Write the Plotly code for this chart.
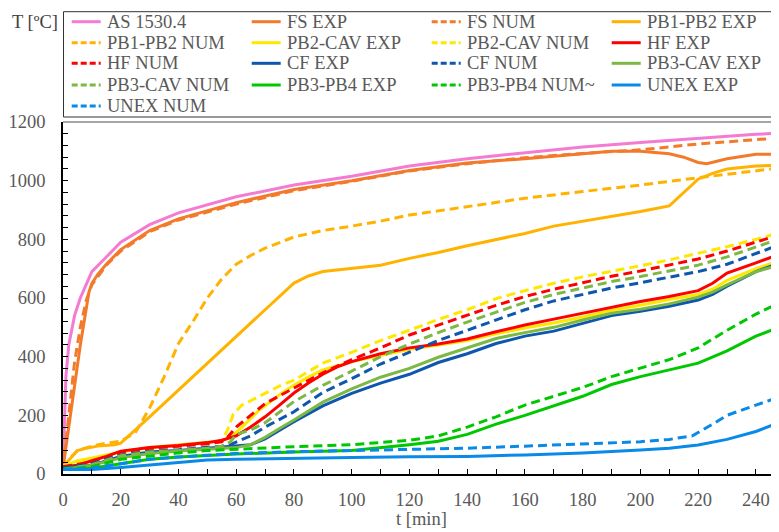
import plotly.graph_objects as go

# ---------------- data ----------------
AS_T = [0, 1, 2, 4, 6, 10, 15, 20, 30, 40, 60, 80, 100, 120, 140, 160, 180, 200, 220, 240, 248]
AS_Y = [20, 330, 440, 540, 600, 690, 740, 790, 850, 890, 945, 985, 1015, 1050, 1075, 1095, 1115, 1130, 1145, 1158, 1162]

FS_EXP_T = [0, 3, 6, 9, 10, 12, 15, 20, 30, 40, 60, 80, 100, 120, 140, 160, 180, 190, 200, 210, 215, 220, 223, 230, 240, 248]
FS_EXP_Y = [20, 230, 440, 620, 650, 680, 715, 765, 830, 870, 925, 970, 1000, 1035, 1060, 1075, 1090, 1100, 1100, 1092, 1080, 1062, 1058, 1075, 1090, 1090]

FS_NUM_T = [0, 2, 4, 6, 8, 10, 15, 20, 30, 40, 60, 80, 100, 120, 140, 160, 180, 200, 220, 240, 248]
FS_NUM_Y = [20, 200, 380, 500, 590, 645, 712, 760, 826, 866, 920, 966, 998, 1033, 1058, 1078, 1093, 1105, 1125, 1140, 1145]

PB12_EXP_T = [0, 3, 5, 8, 12, 18, 20, 30, 40, 50, 60, 70, 80, 85, 90, 100, 110, 120, 130, 140, 150, 160, 170, 180, 190, 200, 210, 215, 220, 225, 230, 240, 248]
PB12_EXP_Y = [25, 60, 80, 88, 95, 100, 105, 195, 287, 378, 470, 560, 651, 675, 690, 700, 712, 735, 755, 778, 800, 820, 845, 862, 877, 895, 914, 960, 1005, 1025, 1040, 1050, 1053]

PB12_NUM_T = [0, 3, 5, 10, 15, 20, 25, 30, 35, 40, 45, 50, 55, 60, 65, 70, 80, 90, 100, 110, 120, 140, 160, 180, 200, 220, 240, 248]
PB12_NUM_Y = [20, 60, 80, 95, 105, 112, 140, 225, 330, 445, 520, 600, 665, 715, 745, 770, 808, 830, 845, 862, 883, 912, 940, 963, 985, 1010, 1033, 1043]

PB2CAV_EXP_T = [0, 5, 10, 20, 30, 40, 50, 55, 58, 62, 68, 75, 80, 85, 90, 100, 110, 120, 130, 140, 150, 160, 170, 180, 190, 200, 210, 220, 225, 230, 240, 248]
PB2CAV_EXP_Y = [25, 45, 55, 75, 90, 100, 108, 112, 125, 160, 218, 270, 303, 330, 355, 383, 405, 425, 440, 455, 478, 498, 515, 535, 558, 575, 595, 612, 630, 660, 700, 726]

PB2CAV_NUM_T = [0, 5, 10, 20, 30, 40, 50, 55, 57, 59, 62, 68, 75, 80, 90, 100, 110, 120, 130, 140, 150, 160, 170, 180, 190, 200, 210, 220, 230, 240, 248]
PB2CAV_NUM_Y = [25, 40, 50, 70, 85, 97, 105, 112, 150, 205, 235, 264, 300, 320, 378, 415, 455, 490, 527, 560, 598, 625, 650, 672, 690, 710, 730, 752, 775, 800, 822]

HF_EXP_T = [0, 5, 10, 15, 20, 25, 30, 40, 50, 55, 60, 65, 70, 75, 80, 85, 90, 95, 100, 110, 120, 130, 140, 150, 160, 170, 180, 190, 200, 210, 220, 225, 230, 240, 248]
HF_EXP_Y = [25, 30, 45, 60, 78, 85, 90, 97, 107, 115, 130, 160, 195, 235, 276, 310, 340, 365, 383, 410, 430, 443, 460, 485, 508, 528, 548, 570, 588, 605, 625, 650, 685, 720, 748]

HF_NUM_T = [0, 10, 20, 30, 40, 50, 55, 57, 60, 65, 70, 80, 90, 100, 110, 120, 130, 140, 150, 160, 170, 180, 190, 200, 210, 220, 230, 240, 248]
HF_NUM_Y = [25, 40, 75, 88, 95, 103, 110, 125, 160, 200, 240, 293, 345, 390, 430, 474, 508, 540, 575, 605, 630, 652, 674, 692, 712, 733, 760, 792, 815]

CF_EXP_T = [0, 10, 20, 30, 40, 50, 55, 60, 65, 70, 75, 80, 90, 100, 110, 120, 130, 140, 150, 160, 170, 180, 190, 200, 210, 220, 225, 230, 240, 248]
CF_EXP_Y = [20, 30, 60, 75, 80, 88, 92, 95, 100, 120, 150, 178, 232, 275, 310, 340, 380, 410, 445, 470, 487, 513, 540, 555, 572, 593, 612, 640, 690, 719]

CF_NUM_T = [0, 10, 20, 30, 40, 50, 55, 58, 60, 65, 70, 80, 90, 100, 110, 120, 130, 140, 150, 160, 170, 180, 190, 200, 210, 220, 230, 240, 248]
CF_NUM_Y = [20, 35, 65, 78, 83, 90, 95, 100, 108, 130, 160, 212, 278, 325, 375, 415, 455, 490, 525, 560, 590, 612, 634, 652, 670, 690, 715, 752, 781]

PB3CAV_EXP_T = [0, 10, 20, 30, 40, 50, 55, 60, 65, 70, 75, 80, 90, 100, 110, 120, 130, 140, 150, 160, 170, 180, 190, 200, 210, 220, 225, 230, 240, 248]
PB3CAV_EXP_Y = [15, 30, 55, 70, 78, 83, 88, 90, 100, 125, 155, 184, 245, 290, 330, 360, 398, 430, 462, 482, 500, 525, 548, 562, 580, 603, 620, 645, 690, 712]

PB3CAV_NUM_T = [0, 10, 20, 30, 40, 50, 55, 58, 60, 65, 70, 80, 90, 100, 110, 120, 130, 140, 150, 160, 170, 180, 190, 200, 210, 220, 230, 240, 248]
PB3CAV_NUM_Y = [15, 32, 62, 75, 80, 88, 95, 110, 135, 150, 175, 247, 302, 352, 400, 443, 482, 518, 552, 585, 612, 635, 656, 673, 692, 712, 740, 775, 801]

PB34_EXP_T = [0, 10, 20, 30, 40, 50, 60, 80, 100, 120, 130, 140, 150, 160, 170, 180, 190, 200, 210, 220, 230, 240, 248]
PB34_EXP_Y = [15, 20, 35, 50, 58, 63, 68, 75, 80, 100, 112, 135, 170, 200, 232, 265, 305, 332, 355, 378, 420, 470, 500]

PB34_NUM_T = [0, 10, 20, 30, 40, 50, 60, 80, 100, 120, 130, 140, 150, 160, 170, 180, 190, 200, 210, 220, 230, 240, 248]
PB34_NUM_Y = [15, 25, 50, 62, 72, 80, 85, 93, 100, 115, 130, 160, 195, 235, 265, 295, 332, 360, 390, 430, 490, 545, 583]

UNEX_EXP_T = [0, 10, 20, 30, 40, 50, 60, 80, 100, 120, 140, 160, 180, 200, 210, 220, 230, 240, 248]
UNEX_EXP_Y = [15, 15, 22, 30, 40, 48, 50, 54, 56, 59, 60, 65, 72, 82, 88, 99, 118, 145, 175]

UNEX_NUM_T = [0, 10, 20, 30, 40, 50, 60, 80, 100, 120, 140, 160, 180, 200, 210, 218, 225, 230, 240, 248]
UNEX_NUM_Y = [15, 20, 35, 50, 58, 65, 70, 76, 80, 84, 88, 95, 102, 110, 118, 130, 170, 200, 235, 262]

SERIES = [
    ("AS 1530.4", AS_T, AS_Y, "#F47BD2", "solid"),
    ("FS EXP", FS_EXP_T, FS_EXP_Y, "#F37A2A", "solid"),
    ("FS NUM", FS_NUM_T, FS_NUM_Y, "#F37A2A", "dash"),
    ("PB1-PB2 EXP", PB12_EXP_T, PB12_EXP_Y, "#FFB300", "solid"),
    ("PB1-PB2 NUM", PB12_NUM_T, PB12_NUM_Y, "#FFB300", "dash"),
    ("PB2-CAV EXP", PB2CAV_EXP_T, PB2CAV_EXP_Y, "#FFE800", "solid"),
    ("PB2-CAV NUM", PB2CAV_NUM_T, PB2CAV_NUM_Y, "#FFE800", "dash"),
    ("HF EXP", HF_EXP_T, HF_EXP_Y, "#FF0000", "solid"),
    ("HF NUM", HF_NUM_T, HF_NUM_Y, "#FF0000", "dash"),
    ("CF EXP", CF_EXP_T, CF_EXP_Y, "#0E56AE", "solid"),
    ("CF NUM", CF_NUM_T, CF_NUM_Y, "#0E56AE", "dash"),
    ("PB3-CAV EXP", PB3CAV_EXP_T, PB3CAV_EXP_Y, "#7CB844", "solid"),
    ("PB3-CAV NUM", PB3CAV_NUM_T, PB3CAV_NUM_Y, "#7CB844", "dash"),
    ("PB3-PB4 EXP", PB34_EXP_T, PB34_EXP_Y, "#00C800", "solid"),
    ("PB3-PB4 NUM~", PB34_NUM_T, PB34_NUM_Y, "#00C800", "dash"),
    ("UNEX EXP", UNEX_EXP_T, UNEX_EXP_Y, "#0A8AE8", "solid"),
    ("UNEX NUM", UNEX_NUM_T, UNEX_NUM_Y, "#0A8AE8", "dash"),
]

FONT = "Liberation Serif, Times New Roman, serif"
TXT = "#595959"
FS = 18.5

# figure geometry (the page body adds an 8px margin)
W, H = 771, 524
ML, MR, MT, MB = 55, 0, 114, 58
PW = W - ML - MR
PH = H - MT - MB


def px_x(fx):
    return (fx - ML) / PW


def px_y(fy):
    return (H - MB - fy) / PH


fig = go.Figure()
for name, t, y, color, dash in SERIES:
    fig.add_trace(go.Scatter(
        x=t, y=y, name=name, mode="lines", showlegend=False,
        line=dict(color=color, width=3, dash=("9px,5px" if dash == "dash" else "solid")),
    ))

# ---- legend (4 columns x 5 rows, boxed) ----
shapes = [
    dict(type="rect", xref="paper", yref="paper",
         x0=px_x(ML + 0.5), x1=px_x(W + 20), y0=px_y(109), y1=px_y(3.7),
         line=dict(color="#333333", width=1), fillcolor="white", layer="above"),
    dict(type="line", xref="paper", yref="paper", x0=0, x1=1, y0=1, y1=1,
         line=dict(color="#888888", width=1.5)),
]
annotations = []
ROW_Y = [13.7, 34.7, 55.3, 77.0, 98.0]
for i, (name, t, y, color, dash) in enumerate(SERIES):
    r, c = divmod(i, 4)
    x0 = 63.7 + 180 * c
    yy = ROW_Y[r]
    shapes.append(dict(
        type="line", xref="paper", yref="paper",
        x0=px_x(x0), x1=px_x(x0 + 29), y0=px_y(yy), y1=px_y(yy),
        line=dict(color=color, width=3, dash=("6px,3px" if dash == "dash" else "solid")),
        layer="above",
    ))
    annotations.append(dict(
        text=name, xref="paper", yref="paper", x=px_x(x0 + 33), y=px_y(yy),
        xanchor="left", yanchor="middle", showarrow=False,
        font=dict(family=FONT, size=FS, color=TXT),
    ))

annotations.append(dict(
    text="T [ºC]", xref="paper", yref="paper", x=px_x(2), xanchor="left",
    y=px_y(13.7), yanchor="middle", showarrow=False,
    font=dict(family=FONT, size=FS, color="#404040"),
))
annotations.append(dict(
    text="t [min]", xref="paper", yref="paper", x=0.5, xanchor="center",
    y=px_y(511), yanchor="middle", showarrow=False,
    font=dict(family=FONT, size=FS, color=TXT),
))

fig.update_layout(
    width=W, height=H,
    margin=dict(l=ML, r=MR, t=MT, b=MB),
    plot_bgcolor="white", paper_bgcolor="white",
    font=dict(family=FONT, size=FS, color=TXT),
    showlegend=False,
    xaxis=dict(
        range=[0, 248], dtick=20, tick0=0,
        ticks="inside", ticklen=5, tickcolor="black", tickwidth=1,
        minor=dict(dtick=10, ticks="inside", ticklen=5, tickcolor="black"),
        showline=True, linecolor="black", linewidth=1.5,
        showgrid=False, zeroline=False,
        ticklabelstandoff=8,
        tickfont=dict(family=FONT, size=FS, color=TXT),
    ),
    yaxis=dict(
        range=[0, 1200], dtick=200, tick0=0,
        ticks="inside", ticklen=5, tickcolor="black", tickwidth=1,
        minor=dict(dtick=40, ticks="inside", ticklen=5, tickcolor="black"),
        showline=True, linecolor="black", linewidth=1.5,
        showgrid=False, zeroline=False,
        tickfont=dict(family=FONT, size=FS, color=TXT),
        ticklabelstandoff=12,
    ),
    shapes=shapes,
    annotations=annotations,
)

fig.write_html("out.html")
